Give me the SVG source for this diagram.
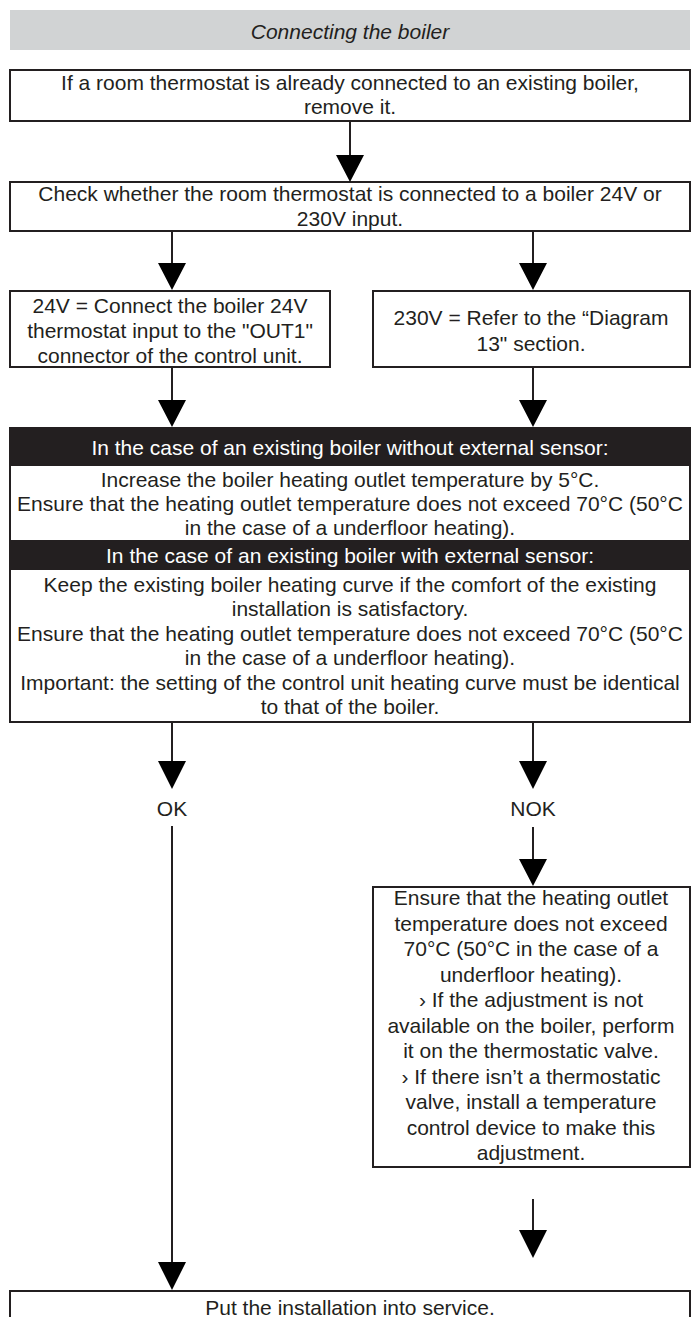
<svg xmlns="http://www.w3.org/2000/svg" width="700" height="1317" viewBox="0 0 700 1317">
<style>
.bx{fill:#fff;stroke:#231f20;stroke-width:2}
.t{font-family:"Liberation Sans",Arial,sans-serif;font-size:21px;fill:#231f20;text-anchor:middle}
.w{fill:#fff}
.c{stroke:#231f20;stroke-width:2;fill:none}
.h{fill:#000}
</style>
<rect width="700" height="1317" fill="#fff"/>
<g id="header">
<rect x="10" y="10" width="680" height="40" fill="#d1d3d4"/>
<text class="t" x="350" y="38.5" font-style="italic" font-size="24">Connecting the boiler</text>
</g>
<g id="n1">
<rect class="bx" x="10" y="70" width="680" height="51"/>
<text class="t" x="350" y="90">If a room thermostat is already connected to an existing boiler,</text>
<text class="t" x="350" y="114">remove it.</text>
</g>
<g id="n2">
<rect class="bx" x="10" y="182" width="680" height="49"/>
<text class="t" x="350" y="201">Check whether the room thermostat is connected to a boiler 24V or</text>
<text class="t" x="350" y="226">230V input.</text>
</g>
<g id="n3">
<rect class="bx" x="10" y="291" width="320" height="76"/>
<text class="t" x="170" y="313">24V = Connect the boiler 24V</text>
<text class="t" x="170" y="338">thermostat input to the "OUT1"</text>
<text class="t" x="170" y="363">connector of the control unit.</text>
</g>
<g id="n4">
<rect class="bx" x="373" y="291" width="317" height="76"/>
<text class="t" x="531" y="325">230V = Refer to the “Diagram</text>
<text class="t" x="531" y="351">13" section.</text>
</g>
<g id="n5">
<rect class="bx" x="10" y="428" width="680" height="294"/>
<rect x="10" y="428" width="680" height="38" fill="#231f20"/>
<text class="t w" x="350" y="455">In the case of an existing boiler without external sensor:</text>
<text class="t" x="350" y="487">Increase the boiler heating outlet temperature by 5°C.</text>
<text class="t" x="350" y="511">Ensure that the heating outlet temperature does not exceed 70°C (50°C</text>
<text class="t" x="350" y="535">in the case of a underfloor heating).</text>
<rect x="10" y="540" width="680" height="30" fill="#231f20"/>
<text class="t w" x="350" y="563">In the case of an existing boiler with external sensor:</text>
<text class="t" x="350" y="592">Keep the existing boiler heating curve if the comfort of the existing</text>
<text class="t" x="350" y="616">installation is satisfactory.</text>
<text class="t" x="350" y="641">Ensure that the heating outlet temperature does not exceed 70°C (50°C</text>
<text class="t" x="350" y="665">in the case of a underfloor heating).</text>
<text class="t" x="350" y="690">Important: the setting of the control unit heating curve must be identical</text>
<text class="t" x="350" y="714">to that of the boiler.</text>
</g>
<g id="ok"><text class="t" x="172" y="816">OK</text></g>
<g id="nok"><text class="t" x="533" y="816">NOK</text></g>
<g id="n6">
<rect class="bx" x="373" y="887" width="317" height="280"/>
<text class="t" x="531" y="905">Ensure that the heating outlet</text>
<text class="t" x="531" y="930.5">temperature does not exceed</text>
<text class="t" x="531" y="956">70°C (50°C in the case of a</text>
<text class="t" x="531" y="981.5">underfloor heating).</text>
<text class="t" x="531" y="1007">› If the adjustment is not</text>
<text class="t" x="531" y="1032.5">available on the boiler, perform</text>
<text class="t" x="531" y="1058">it on the thermostatic valve.</text>
<text class="t" x="531" y="1083.5">› If there isn’t a thermostatic</text>
<text class="t" x="531" y="1109">valve, install a temperature</text>
<text class="t" x="531" y="1134.5">control device to make this</text>
<text class="t" x="531" y="1160">adjustment.</text>
</g>
<g id="n7">
<rect class="bx" x="10" y="1291" width="680" height="40"/>
<text class="t" x="350" y="1315">Put the installation into service.</text>
</g>
<g id="connectors">
<path class="c" d="M350 121V156M172 231V265M533 231V265M172 367V402M533 367V402M172 722V763M533 722V763M533 827V861M533 1199V1232M172 826V1264"/>
<path class="h" d="M336 155h28l-14 27zM158 263h28l-14 27zM519 263h28l-14 27zM158 400h28l-14 27zM519 400h28l-14 27zM158 761h28l-14 28zM519 761h28l-14 28zM519 859h28l-14 27zM519 1230h28l-14 28zM158 1262h28l-14 28z"/>
</g>
</svg>
